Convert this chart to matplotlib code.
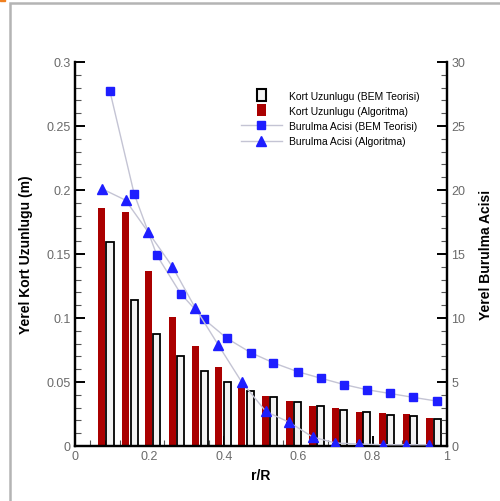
import matplotlib.pyplot as plt
from matplotlib.legend_handler import HandlerPatch
from matplotlib.lines import Line2D
from matplotlib.patches import Patch, Rectangle
from matplotlib.ticker import MultipleLocator

plt.rcParams['font.family'] = ['Liberation Sans', 'DejaVu Sans']

# r/R stations (algorithm and BEM grids are slightly shifted)
r_alg = [0.072, 0.136, 0.197, 0.262, 0.323, 0.385, 0.448, 0.513,
         0.576, 0.639, 0.700, 0.764, 0.827, 0.890, 0.952]
r_bem = [0.094, 0.159, 0.220, 0.284, 0.347, 0.409, 0.472, 0.533,
         0.599, 0.660, 0.723, 0.784, 0.847, 0.909, 0.974]

# chord length (m)
chord_bem = [0.159, 0.114, 0.0875, 0.0706, 0.0583, 0.0497, 0.0432, 0.0385,
             0.0346, 0.0315, 0.0284, 0.0263, 0.0242, 0.0232, 0.0211]
chord_alg = [0.186, 0.183, 0.137, 0.101, 0.0784, 0.062, 0.0477, 0.0393,
             0.0354, 0.0315, 0.0294, 0.0268, 0.0258, 0.025, 0.0216]

# twist angle (deg)
twist_bem = [27.7, 19.7, 14.9, 11.9, 9.9, 8.4, 7.3, 6.5,
             5.8, 5.3, 4.8, 4.4, 4.1, 3.8, 3.5]
twist_alg = [20.1, 19.2, 16.7, 14.0, 10.8, 7.9, 5.0, 2.7,
             1.85, 0.7, 0.23, 0.15, 0.1, 0.1, 0.1]

x_ticks = [0, 0.2, 0.4, 0.6, 0.8, 1]
x_tick_labels = ['0', '0.2', '0.4', '0.6', '0.8', '1']
y_ticks = [0, 0.05, 0.1, 0.15, 0.2, 0.25, 0.3]
y_tick_labels = ['0', '0.05', '0.1', '0.15', '0.2', '0.25', '0.3']

fig = plt.figure(figsize=(5.0, 5.02), dpi=100)

# outer frame of the exported page
fig.patches.append(Rectangle((0.019, -0.01), 1.0, 1.002,
                             transform=fig.transFigure, fill=False,
                             edgecolor='#b4b4b4', linewidth=1.8))
fig.patches.append(Rectangle((0.0, 0.996), 0.01, 0.004,
                             transform=fig.transFigure, color='#f08020'))

ax = fig.add_axes([0.15, 0.1096, 0.744, 0.765])
ax2 = ax.twinx()

bw = 0.019
ax.bar(r_alg, chord_alg, width=bw, color='#aa0000', linewidth=0,
       zorder=2)
ax.bar(r_bem, chord_bem, width=bw, facecolor='#f2f2f2',
       edgecolor='black', linewidth=1.3, zorder=2)

line_c = '#c4c4d4'
ax2.plot(r_bem, twist_bem, color=line_c, lw=1, marker='s', ms=6.3,
         mfc='#1e1eff', mec='#1e1eff', zorder=3)
ax2.plot(r_alg, twist_alg, color=line_c, lw=1, marker='^', ms=6.8,
         mfc='#1e1eff', mec='#1e1eff', zorder=3)

ax.set_zorder(ax2.get_zorder() - 1)
ax2.patch.set_visible(False)

ax.set_xlim(0, 1)
ax.set_ylim(0, 0.3)
ax2.set_ylim(0, 30)

ax.set_xticks(x_ticks, x_tick_labels)
ax.xaxis.set_minor_locator(MultipleLocator(0.04))
ax.set_yticks(y_ticks, y_tick_labels)
ax.yaxis.set_minor_locator(MultipleLocator(0.01))
ax2.yaxis.set_major_locator(MultipleLocator(5))
ax2.yaxis.set_minor_locator(MultipleLocator(1))

for a in (ax, ax2):
    a.spines['top'].set_visible(False)
    for s in a.spines.values():
        s.set_linewidth(1.6)
    a.tick_params(which='major', direction='in', length=7, width=1.4,
                  labelsize=9, labelcolor='#6a6a6a', pad=3)
    a.tick_params(which='minor', direction='in', length=4, width=0.8,
                  color='#555555')
ax.tick_params(axis='x', which='both', top=False)

ax.set_xlabel('r/R', fontsize=10, fontweight='bold', labelpad=4)
ax.set_ylabel('Yerel Kort Uzunlugu (m)', fontsize=10, fontweight='bold',
              labelpad=10)
ax2.set_ylabel('Yerel Burulma Acisi', fontsize=10, fontweight='bold',
               labelpad=10)


def narrow_box(legend, orig_handle, xdescent, ydescent, width, height,
               fontsize):
    return Rectangle((width / 2 - 3.2, -ydescent - 1.5), 6.4, height + 3)


handles = [
    Patch(facecolor='#f2f2f2', edgecolor='black', linewidth=1.5),
    Patch(facecolor='#aa0000', edgecolor='none'),
    Line2D([], [], color=line_c, lw=1, marker='s', ms=6.3,
           mfc='#1e1eff', mec='#1e1eff'),
    Line2D([], [], color=line_c, lw=1, marker='^', ms=6.8,
           mfc='#1e1eff', mec='#1e1eff'),
]
labels = ['Kort Uzunlugu (BEM Teorisi)', 'Kort Uzunlugu (Algoritma)',
          'Burulma Acisi (BEM Teorisi)', 'Burulma Acisi (Algoritma)']
leg = ax2.legend(handles, labels, loc='upper left',
                 bbox_to_anchor=(0.42, 0.95), frameon=False, fontsize=7.5,
                 handlelength=4.0, handletextpad=0.6, labelspacing=0.5,
                 handler_map={Patch: HandlerPatch(patch_func=narrow_box)})

fig.savefig('out.png', dpi=100)
